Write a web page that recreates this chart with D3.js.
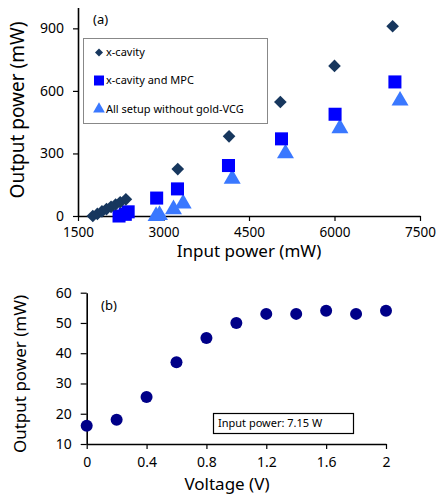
<!DOCTYPE html>
<html>
<head>
<meta charset="utf-8">
<script src="https://cdn.jsdelivr.net/npm/d3@7"></script>
<style>
  body { margin: 0; background: #fff; }
  svg text { font-family: "Noto Sans", sans-serif; fill: #000; }
</style>
</head>
<body>
<svg id="chart" width="436" height="496"></svg>
<script>
// ---- data: panel (a) ----
const cavityX = [1760, 1840, 1920, 2000, 2080, 2160, 2240, 2340, 3250, 4150, 5050, 6000, 7020];
const cavityY = [0, 10, 22, 33, 44, 55, 66, 80, 225, 382, 547, 720, 910];

const mpcX = [2220, 2330, 2380, 2880, 3245, 4140, 5070, 6010, 7060];
const mpcY = [0, 8, 20, 86, 130, 242, 370, 488, 643];

const noVcgX = [2870, 2930, 3175, 3345, 4205, 5140, 6095, 7150];
const noVcgY = [0, 4, 32, 60, 178, 300, 420, 553];

const xTicksA = [1500, 3000, 4500, 6000, 7500];
const yTicksA = [0, 300, 600, 900];

const legendLabels = ["x-cavity", "x-cavity and MPC", "All setup without gold-VCG"];

// ---- data: panel (b) ----
const voltage = [0, 0.2, 0.4, 0.6, 0.8, 1.0, 1.2, 1.4, 1.6, 1.8, 2.0];
const outB = [16, 18, 25.5, 37, 45, 50, 53, 53, 54, 53, 54];
const xTicksB = [0, 0.4, 0.8, 1.2, 1.6, 2];
const yTicksB = [10, 20, 30, 40, 50, 60];

const svg = d3.select("#chart");

const colDiamond = "#17375e";
const colSquare = "#0000ff";
const colTriangle = "#3a78ff";
const colCircle = "#000088";

// styling the axes like the excel original
function styleAxis(g, size) {
  g.select(".domain").attr("stroke", "#000").attr("stroke-width", 1.6);
  g.selectAll(".tick line").attr("stroke", "#000").attr("stroke-width", 1.2);
  g.selectAll(".tick text").style("font-size", size + "px").attr("fill", "#000");
}

// ================= panel (a) =================
const xA = d3.scaleLinear().domain([1500, 7500]).range([78, 420]);
const yA = d3.scaleLinear().domain([0, 1000]).range([216, 7.5]);

const gxA = svg.append("g")
  .attr("transform", `translate(0, ${yA(0)})`)
  .call(d3.axisBottom(xA).tickValues(xTicksA).tickSizeInner(5).tickSizeOuter(0).tickPadding(6).tickFormat(d3.format("d")));
styleAxis(gxA, 13.5);

const gyA = svg.append("g")
  .attr("transform", `translate(${xA(1500)}, 0)`)
  .call(d3.axisLeft(yA).tickValues(yTicksA).tickSizeInner(5).tickSizeOuter(0).tickPadding(9).tickFormat(d3.format("d")));
styleAxis(gyA, 14);

const diamond = d3.symbol().type(d3.symbolSquare).size(80);
const square = d3.symbol().type(d3.symbolSquare).size(170);
const triangle = d3.symbol().type(d3.symbolTriangle).size(125);

const marksA = svg.append("g");

marksA.selectAll(".tri")
  .data(noVcgX.map((x, i) => [x, noVcgY[i]]))
  .enter().append("path")
  .attr("d", triangle)
  .attr("transform", d => `translate(${xA(d[0])}, ${yA(d[1])})`)
  .attr("fill", colTriangle);

marksA.selectAll(".sq")
  .data(mpcX.map((x, i) => [x, mpcY[i]]))
  .enter().append("path")
  .attr("d", square)
  .attr("transform", d => `translate(${xA(d[0])}, ${yA(d[1])})`)
  .attr("fill", colSquare);

marksA.selectAll(".dia")
  .data(cavityX.map((x, i) => [x, cavityY[i]]))
  .enter().append("path")
  .attr("d", diamond)
  .attr("transform", d => `translate(${xA(d[0])}, ${yA(d[1])}) rotate(45)`)
  .attr("fill", colDiamond);

svg.append("text").attr("x", 93).attr("y", 24).style("font-size", "13px").text("(a)");

// legend
const legend = svg.append("g");
legend.append("rect")
  .attr("x", 83.5).attr("y", 38.5).attr("width", 184).attr("height", 85)
  .attr("fill", "#fff").attr("stroke", "#888").attr("stroke-width", 1);

const legendSyms = [
  { sym: d3.symbol().type(d3.symbolSquare).size(32), col: colDiamond, rot: 45 },
  { sym: d3.symbol().type(d3.symbolSquare).size(100), col: colSquare, rot: 0 },
  { sym: d3.symbol().type(d3.symbolTriangle).size(60), col: colTriangle, rot: 0 }
];
const legendY = [52.5, 80.5, 109];
legendLabels.forEach((lab, i) => {
  legend.append("path")
    .attr("d", legendSyms[i].sym)
    .attr("transform", `translate(99, ${legendY[i]}) rotate(${legendSyms[i].rot})`)
    .attr("fill", legendSyms[i].col);
  legend.append("text")
    .attr("x", 106).attr("y", legendY[i]).attr("dy", "0.35em")
    .style("font-size", "11px").text(lab);
});

svg.append("text")
  .attr("transform", "translate(24, 110) rotate(-90)")
  .attr("text-anchor", "middle").style("font-size", "19px")
  .text("Output power (mW)");

svg.append("text")
  .attr("x", 249).attr("y", 257)
  .attr("text-anchor", "middle").style("font-size", "17px")
  .text("Input power (mW)");

// ================= panel (b) =================
const xB = d3.scaleLinear().domain([0, 2]).range([86.7, 386]);
const yB = d3.scaleLinear().domain([10, 60]).range([444, 292.7]);

const gxB = svg.append("g")
  .attr("transform", `translate(0, ${yB(10)})`)
  .call(d3.axisBottom(xB).tickValues(xTicksB).tickSizeInner(5).tickSizeOuter(0).tickPadding(8).tickFormat(d3.format("~g")));
styleAxis(gxB, 14);

const gyB = svg.append("g")
  .attr("transform", `translate(${xB(0)}, 0)`)
  .call(d3.axisLeft(yB).tickValues(yTicksB).tickSizeInner(6).tickSizeOuter(0).tickPadding(9));
styleAxis(gyB, 14);

svg.append("g").selectAll("circle")
  .data(voltage.map((v, i) => [v, outB[i]]))
  .enter().append("circle")
  .attr("cx", d => xB(d[0]))
  .attr("cy", d => yB(d[1]))
  .attr("r", 6)
  .attr("fill", colCircle);

svg.append("text").attr("x", 101).attr("y", 310).style("font-size", "13px").text("(b)");

svg.append("rect")
  .attr("x", 213.5).attr("y", 413.5).attr("width", 140).attr("height", 20)
  .attr("fill", "#fff").attr("stroke", "#000").attr("stroke-width", 1.2);
svg.append("text")
  .attr("x", 218).attr("y", 423.5).attr("dy", "0.35em")
  .style("font-size", "11px").text("Input power: 7.15 W");

svg.append("text")
  .attr("transform", "translate(26, 374) rotate(-90)")
  .attr("text-anchor", "middle").style("font-size", "17px")
  .text("Output power (mW)");

svg.append("text")
  .attr("x", 227).attr("y", 490)
  .attr("text-anchor", "middle").style("font-size", "17px")
  .text("Voltage (V)");
</script>
</body>
</html>
